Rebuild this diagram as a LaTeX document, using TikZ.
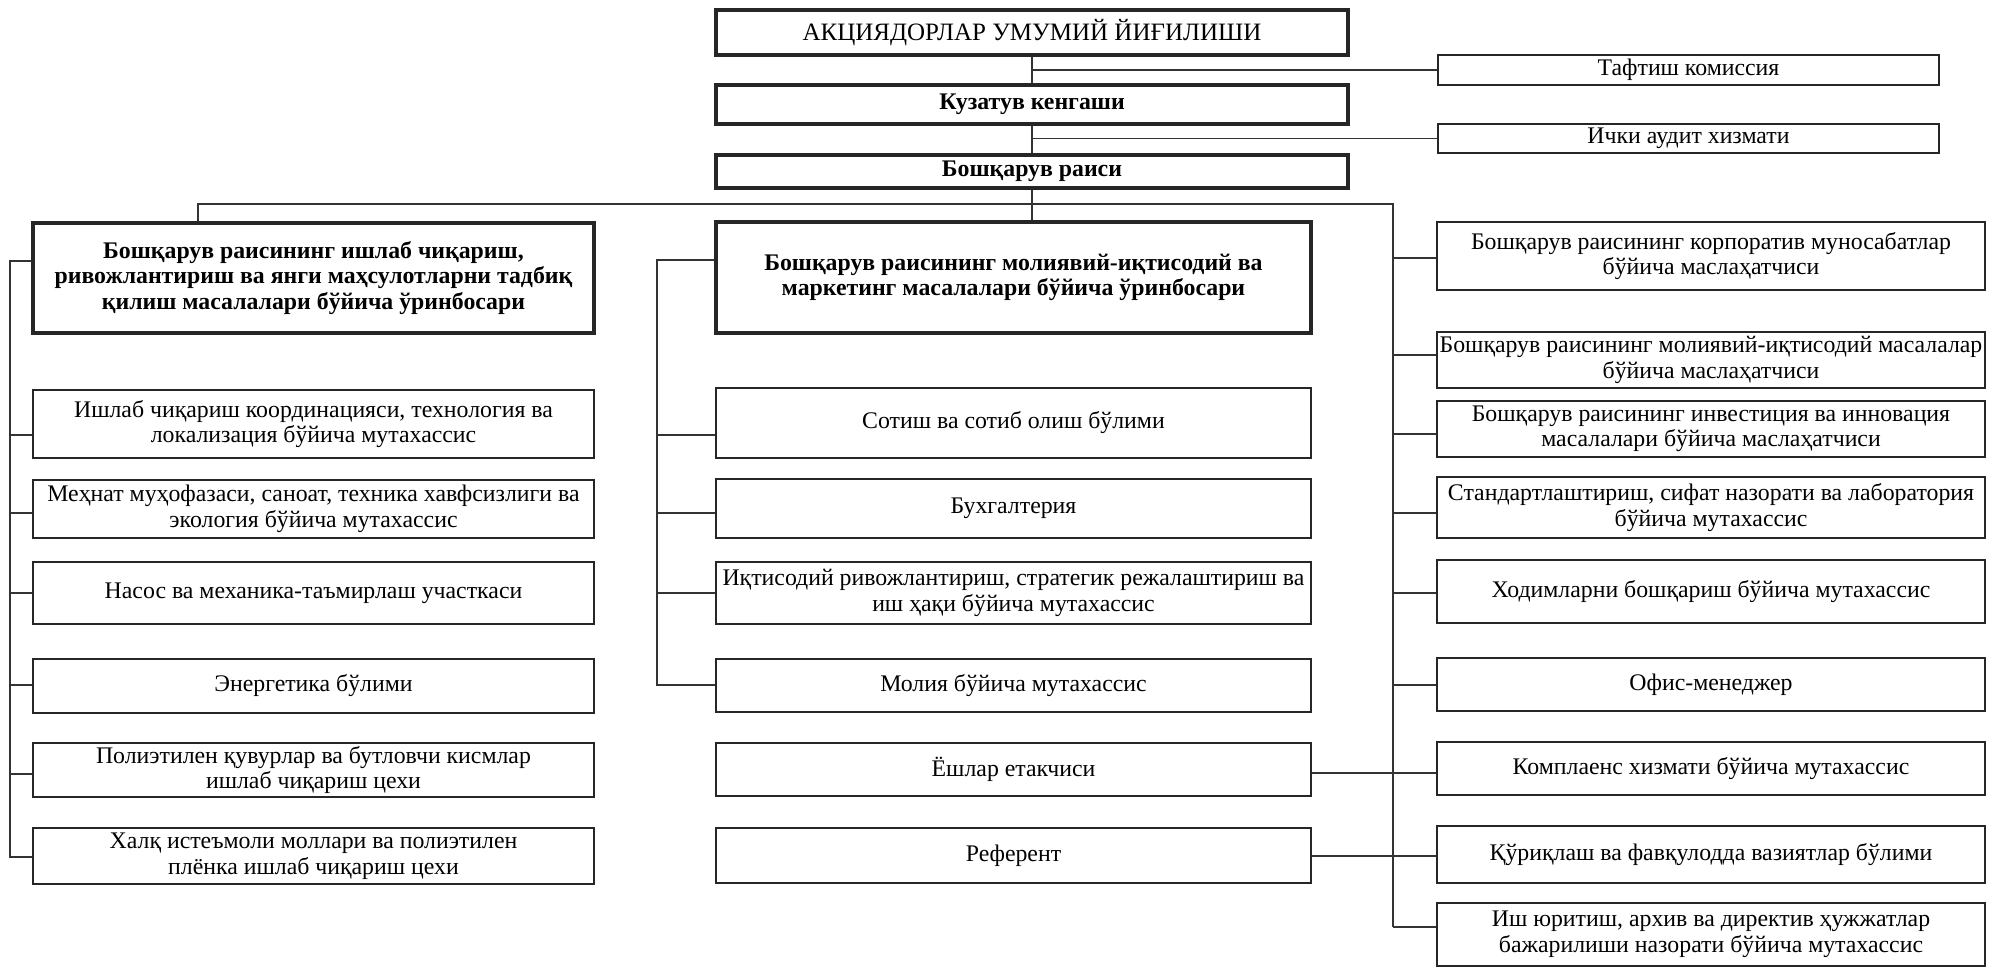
\documentclass[tikz,border=0pt]{standalone}
\usepackage{fontspec}
\setmainfont{Liberation Serif}
\newcommand{\orgfont}{\fontsize{23.8}{25.5}\selectfont}
\newcommand{\topfont}{\fontsize{25}{27}\selectfont}
\tikzset{
    orgbox/.style={draw=black!85, line width=1.8pt, fill=white, align=center,
        inner sep=0pt, font=\orgfont},
    bossbox/.style={orgbox, line width=3.2pt, font=\orgfont\bfseries},
    wire/.style={draw=black!80, line width=1.6pt},
}
% name, centre x, width, top y, bottom y, text
\newcommand{\orgunit}[6]{%
    \node[orgbox, minimum width=#3, minimum height={#5-#4}] (#1) at (#2,{(#4+#5)/2}) {#6};}
% rail x, tap y, anchor of the box
\newcommand{\orgtap}[3]{%
    \coordinate (tap) at (#1,#2);
    \draw[wire] (tap) -- (tap -| #3);}

\begin{document}
\begin{tikzpicture}[x=1pt, y=-1pt]

\fill[white] (0,0) rectangle (1997,969);
\useasboundingbox (0,0) rectangle (1997,969);

% Top of the chart
\node[bossbox, font=\topfont, minimum width=632, minimum height=45] (agm) at (1032,32.5) {АКЦИЯДОРЛАР УМУМИЙ ЙИҒИЛИШИ};
\node[bossbox, minimum width=632, minimum height=39] (board) at (1032,104.5) {Кузатув кенгаши};
\node[bossbox, minimum width=632, minimum height=33] (chair) at (1032,171.5) {Бошқарув раиси};

\node[orgbox, minimum width=501, minimum height=30] (audit) at (1688.5,70) {Тафтиш комиссия};
\node[orgbox, minimum width=501, minimum height=29] (inaudit) at (1688.5,138.5) {Ички аудит хизмати};

% Deputies
\node[bossbox, minimum width=561, minimum height=110] (ldep) at (313.5,278)
    {Бошқарув раисининг ишлаб чиқариш,\\ривожлантириш ва янги маҳсулотларни тадбиқ\\қилиш масалалари бўйича ўринбосари};
\node[bossbox, minimum width=595, minimum height=111] (mdep) at (1013.5,277.5)
    {Бошқарув раисининг молиявий-иқтисодий ва\\маркетинг масалалари бўйича ўринбосари};

% Rails
\coordinate (lrail) at (10,261);
\coordinate (mrail) at (657,260);
\coordinate (busL) at (198,204);
\coordinate (rrail) at (1393,204);
\coordinate (lend) at (10,857);
\coordinate (mend) at (657,685);
\coordinate (rend) at (1393,927);

% Trunk
\draw[wire] (agm.south) -- (board.north);
\draw[wire] (board.south) -- (chair.north);
\draw[wire] (chair.south) -- (chair.south |- mdep.north);
\draw[wire] (agm.south |- audit.west) -- (audit.west);
\draw[wire] (board.south |- inaudit.west) -- (inaudit.west);
\draw[wire] (busL |- ldep.north) -- (busL) -- (rrail) -- (rend);

% Left column
\orgunit{L1}{313.5}{561}{390}{458}{Ишлаб чиқариш координацияси, технология ва\\локализация бўйича мутахассис}
\orgunit{L2}{313.5}{561}{480}{538}{Меҳнат муҳофазаси, саноат, техника хавфсизлиги ва\\экология бўйича мутахассис}
\orgunit{L3}{313.5}{561}{562}{624}{Насос ва механика-таъмирлаш участкаси}
\orgunit{L4}{313.5}{561}{659}{713}{Энергетика бўлими}
\orgunit{L5}{313.5}{561}{743}{797}{Полиэтилен қувурлар ва бутловчи кисмлар\\ишлаб чиқариш цехи}
\orgunit{L6}{313.5}{561}{828}{884}{Халқ истеъмоли моллари ва полиэтилен\\плёнка ишлаб чиқариш цехи}

\draw[wire] (ldep.west |- lrail) -- (lrail) -- (lend) -- (lend -| L6.west);
\orgtap{10}{435}{L1.west}
\orgtap{10}{513}{L2.west}
\orgtap{10}{593}{L3.west}
\orgtap{10}{685}{L4.west}
\orgtap{10}{774}{L5.west}

% Middle column
\orgunit{M1}{1013.5}{595}{388}{458}{Сотиш ва сотиб олиш бўлими}
\orgunit{M2}{1013.5}{595}{479}{538}{Бухгалтерия}
\orgunit{M3}{1013.5}{595}{562}{624}{Иқтисодий ривожлантириш, стратегик режалаштириш ва\\иш ҳақи бўйича мутахассис}
\orgunit{M4}{1013.5}{595}{659}{712}{Молия бўйича мутахассис}
\orgunit{M5}{1013.5}{595}{743}{796}{Ёшлар етакчиси}
\orgunit{M6}{1013.5}{595}{828}{883}{Референт}

\draw[wire] (mdep.west |- mrail) -- (mrail) -- (mend) -- (mend -| M4.west);
\orgtap{657}{435}{M1.west}
\orgtap{657}{513}{M2.west}
\orgtap{657}{593}{M3.west}
\orgtap{1393}{773}{M5.east}
\orgtap{1393}{856}{M6.east}

% Right column
\orgunit{R1}{1711}{548}{222}{290}{Бошқарув раисининг корпоратив муносабатлар\\бўйича маслаҳатчиси}
\orgunit{R2}{1711}{548}{332}{388}{Бошқарув раисининг молиявий-иқтисодий масалалар\\бўйича маслаҳатчиси}
\orgunit{R3}{1711}{548}{401}{457}{Бошқарув раисининг инвестиция ва инновация\\масалалари бўйича маслаҳатчиси}
\orgunit{R4}{1711}{548}{477}{538}{Стандартлаштириш, сифат назорати ва лаборатория\\бўйича мутахассис}
\orgunit{R5}{1711}{548}{560}{623}{Ходимларни бошқариш бўйича мутахассис}
\orgunit{R6}{1711}{548}{658}{711}{Офис-менеджер}
\orgunit{R7}{1711}{548}{742}{795}{Комплаенс хизмати бўйича мутахассис}
\orgunit{R8}{1711}{548}{826}{883}{Қўриқлаш ва фавқулодда вазиятлар бўлими}
\orgunit{R9}{1711}{548}{903}{966}{Иш юритиш, архив ва директив ҳужжатлар\\бажарилиши назорати бўйича мутахассис}

\orgtap{1393}{258}{R1.west}
\orgtap{1393}{355}{R2.west}
\orgtap{1393}{434}{R3.west}
\orgtap{1393}{513}{R4.west}
\orgtap{1393}{593}{R5.west}
\orgtap{1393}{685}{R6.west}
\orgtap{1393}{773}{R7.west}
\orgtap{1393}{856}{R8.west}
\draw[wire] (rend) -- (rend -| R9.west);

\end{tikzpicture}
\end{document}
